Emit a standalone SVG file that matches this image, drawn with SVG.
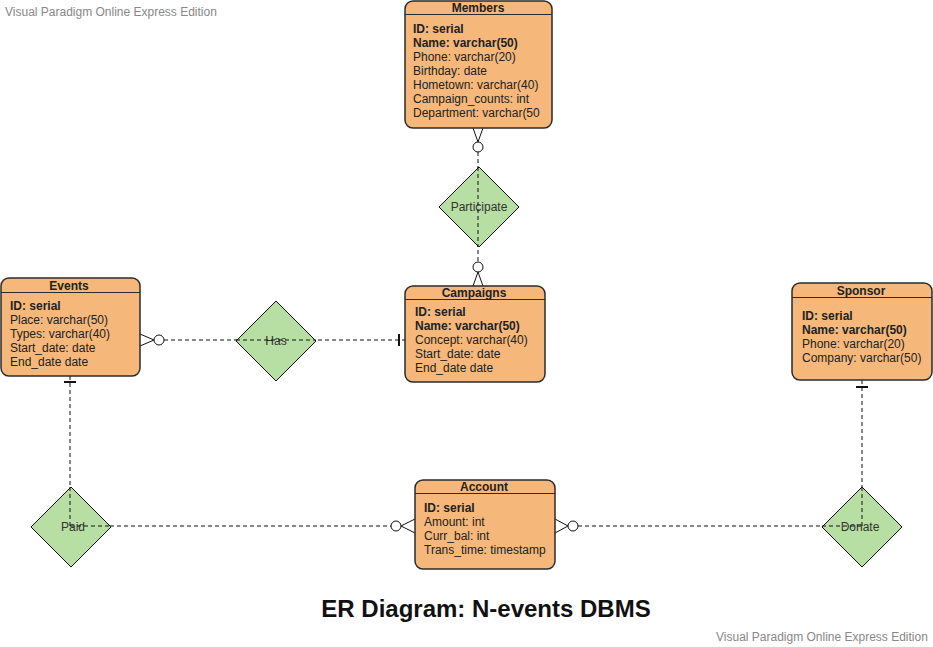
<svg xmlns="http://www.w3.org/2000/svg" width="933" height="647" viewBox="0 0 933 647">
<style>
.box{fill:#F5B77A;stroke:#2b2b2b;stroke-width:1.5}
.hl{stroke:#2b2b2b;stroke-width:1.2}
.t{font-family:"Liberation Sans",Arial,sans-serif;font-size:12px;fill:#222}
.b{font-weight:bold}
.h{font-family:"Liberation Sans",Arial,sans-serif;font-size:12px;font-weight:bold;fill:#222;text-anchor:middle}
.dia{fill:#B7DFA3;stroke:#111;stroke-width:1}
.dl{font-family:"Liberation Sans",Arial,sans-serif;font-size:12px;fill:#333;text-anchor:middle}
.c{fill:none;stroke:#111;stroke-width:1;stroke-dasharray:4 3}
.s{fill:none;stroke:#111;stroke-width:1}
.cir{fill:#fff;stroke:#111;stroke-width:1}
.bar{stroke:#111;stroke-width:2}
.wm{font-family:"Liberation Sans",Arial,sans-serif;font-size:12px;fill:#888}
</style>
<rect width="933" height="647" fill="#fff"/>
<text class="wm" x="5" y="16">Visual Paradigm Online Express Edition</text>
<text class="wm" x="716" y="641">Visual Paradigm Online Express Edition</text>

<g id="connectors">
  <line class="c" x1="478" y1="152" x2="478" y2="262"/>
  <line class="s" x1="473" y1="128" x2="478" y2="142"/>
  <line class="s" x1="483" y1="128" x2="478" y2="142"/>
  <circle class="cir" cx="478" cy="147" r="5"/>
  <line class="s" x1="473" y1="286" x2="478" y2="272"/>
  <line class="s" x1="483" y1="286" x2="478" y2="272"/>
  <circle class="cir" cx="478" cy="267" r="5"/>
  <line class="c" x1="164" y1="340" x2="405" y2="340"/>
  <line class="s" x1="140" y1="334" x2="154" y2="340"/>
  <line class="s" x1="140" y1="346" x2="154" y2="340"/>
  <circle class="cir" cx="159" cy="340" r="5"/>
  <line class="bar" x1="399" y1="334" x2="399" y2="346"/>
  <line class="c" x1="70" y1="376" x2="70" y2="526"/>
  <line class="bar" x1="64" y1="382" x2="76" y2="382"/>
  <line class="c" x1="110" y1="526" x2="391" y2="526"/>
  <circle class="cir" cx="396" cy="526" r="5"/>
  <line class="s" x1="415" y1="519" x2="401" y2="526"/>
  <line class="s" x1="415" y1="533" x2="401" y2="526"/>
  <line class="s" x1="555" y1="519" x2="568" y2="526"/>
  <line class="s" x1="555" y1="533" x2="568" y2="526"/>
  <circle class="cir" cx="573" cy="526" r="5"/>
  <line class="c" x1="578" y1="526" x2="822" y2="526"/>
  <line class="c" x1="862" y1="380" x2="862" y2="526"/>
  <line class="bar" x1="856" y1="387" x2="868" y2="387"/>
</g>

<g id="members">
  <rect class="box" x="405" y="1" width="147" height="127" rx="8"/>
  <line class="hl" x1="405" y1="14.5" x2="552" y2="14.5"/>
  <text class="h" x="478" y="12">Members</text>
  <text class="t b" x="413" y="33">ID: serial</text>
  <text class="t b" x="413" y="47">Name: varchar(50)</text>
  <text class="t" x="413" y="61">Phone: varchar(20)</text>
  <text class="t" x="413" y="75">Birthday: date</text>
  <text class="t" x="413" y="89">Hometown: varchar(40)</text>
  <text class="t" x="413" y="103">Campaign_counts: int</text>
  <text class="t" x="413" y="117">Department: varchar(50</text>
</g>

<g id="participate">
  <polygon class="dia" points="479,167 519,207 479,247 439,207"/>
  <text class="dl" x="479" y="211">Participate</text>
  <line class="c" x1="478" y1="167" x2="478" y2="247"/>
</g>

<g id="campaigns">
  <rect class="box" x="405" y="286" width="140" height="96" rx="8"/>
  <line class="hl" x1="405" y1="299.5" x2="545" y2="299.5"/>
  <text class="h" x="474" y="297">Campaigns</text>
  <text class="t b" x="415" y="316">ID: serial</text>
  <text class="t b" x="415" y="330">Name: varchar(50)</text>
  <text class="t" x="415" y="344">Concept: varchar(40)</text>
  <text class="t" x="415" y="358">Start_date: date</text>
  <text class="t" x="415" y="372">End_date date</text>
</g>

<g id="events">
  <rect class="box" x="1" y="278" width="139" height="98" rx="8"/>
  <line class="hl" x1="1" y1="292.5" x2="140" y2="292.5"/>
  <text class="h" x="69" y="290">Events</text>
  <text class="t b" x="10" y="310">ID: serial</text>
  <text class="t" x="10" y="324">Place: varchar(50)</text>
  <text class="t" x="10" y="338">Types: varchar(40)</text>
  <text class="t" x="10" y="352">Start_date: date</text>
  <text class="t" x="10" y="366">End_date date</text>
</g>

<g id="has">
  <polygon class="dia" points="276,301 316,341 276,381 236,341"/>
  <text class="dl" x="276" y="345">Has</text>
  <line class="c" x1="236" y1="340" x2="316" y2="340"/>
</g>

<g id="sponsor">
  <rect class="box" x="792" y="283" width="140" height="97" rx="8"/>
  <line class="hl" x1="792" y1="297.5" x2="932" y2="297.5"/>
  <text class="h" x="861" y="295">Sponsor</text>
  <text class="t b" x="802" y="320">ID: serial</text>
  <text class="t b" x="802" y="334">Name: varchar(50)</text>
  <text class="t" x="802" y="348">Phone: varchar(20)</text>
  <text class="t" x="802" y="362">Company: varchar(50)</text>
</g>

<g id="account">
  <rect class="box" x="415" y="480" width="140" height="89" rx="8"/>
  <line class="hl" x1="415" y1="493.5" x2="555" y2="493.5"/>
  <text class="h" x="484" y="491">Account</text>
  <text class="t b" x="424" y="512">ID: serial</text>
  <text class="t" x="424" y="526">Amount: int</text>
  <text class="t" x="424" y="540">Curr_bal: int</text>
  <text class="t" x="424" y="554">Trans_time: timestamp</text>
</g>

<g id="paid">
  <polygon class="dia" points="71,487 111,527 71,567 31,527"/>
  <text class="dl" x="73" y="531">Paid</text>
  <line class="c" x1="70" y1="487" x2="70" y2="526"/>
  <line class="c" x1="70" y1="526" x2="111" y2="526"/>
</g>

<g id="donate">
  <polygon class="dia" points="862,487 902,527 862,567 822,527"/>
  <text class="dl" x="860" y="531">Donate</text>
  <line class="c" x1="862" y1="487" x2="862" y2="526"/>
  <line class="c" x1="822" y1="526" x2="862" y2="526"/>
</g>

<text x="486" y="617" text-anchor="middle" font-family="'Liberation Sans',Arial,sans-serif" font-size="24" font-weight="bold" fill="#111">ER Diagram: N-events DBMS</text>
</svg>
